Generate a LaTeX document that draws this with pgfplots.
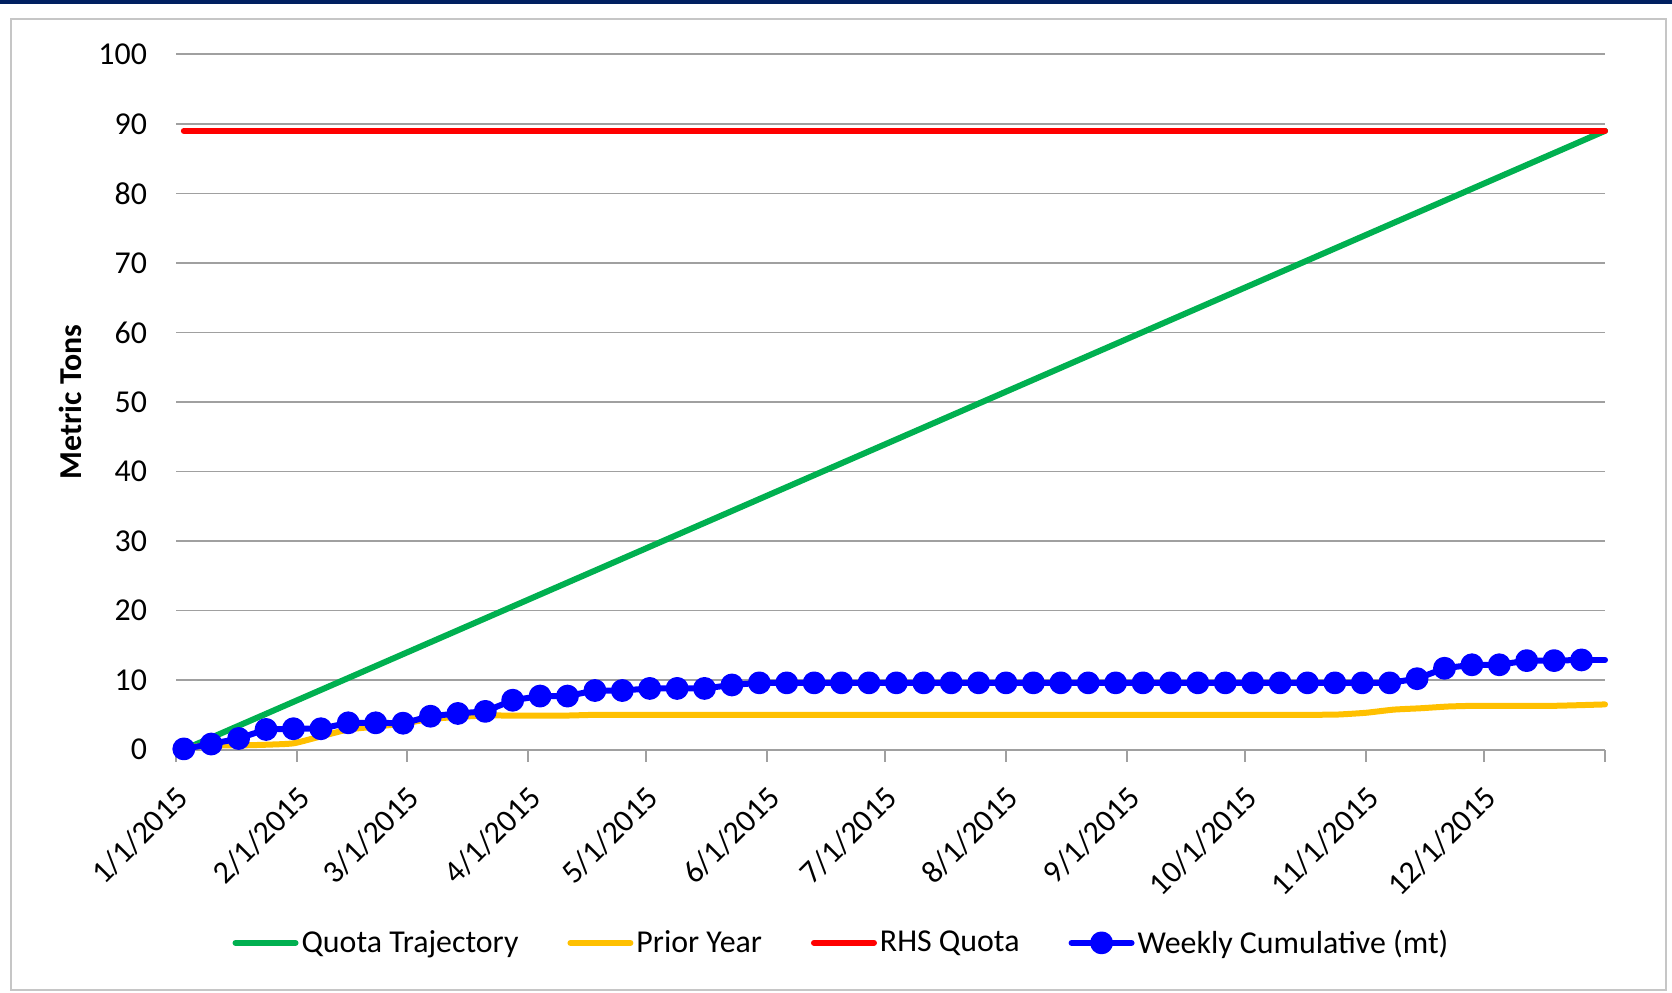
\documentclass[border=0pt]{standalone}
\usepackage{fontspec}
\setmainfont{Carlito}
\usepackage{pgfplots}
\usepackage{pgfplotstable}
\pgfplotsset{compat=1.18}
\definecolor{qgreen}{RGB}{0,176,80}
\definecolor{pyellow}{RGB}{255,192,0}
\definecolor{gridgray}{RGB}{160,160,160}
\definecolor{navybar}{RGB}{0,32,96}

\pgfplotstableread{
day blue
2 0.1
9 0.8
16 1.6
23 2.9
30 3.0
37 3.0
44 3.85
51 3.85
58 3.8
65 4.8
72 5.2
79 5.5
86 7.1
93 7.7
100 7.7
107 8.5
114 8.5
121 8.8
128 8.8
135 8.8
142 9.3
149 9.6
156 9.6
163 9.6
170 9.6
177 9.6
184 9.6
191 9.6
198 9.6
205 9.6
212 9.6
219 9.6
226 9.6
233 9.6
240 9.6
247 9.6
254 9.6
261 9.6
268 9.6
275 9.6
282 9.6
289 9.6
296 9.6
303 9.6
310 9.6
317 10.2
324 11.7
331 12.2
338 12.2
345 12.8
352 12.8
359 12.9
}\weekly

\pgfplotstableread{
day prior
2 0.3
9 0.6
16 0.6
23 0.7
30 0.9
37 1.9
44 2.9
51 3.3
58 3.75
65 4.4
72 4.7
79 4.9
86 4.9
93 4.9
100 4.9
107 5.0
114 5.0
150 5.0
200 5.0
250 5.0
275 5.0
283 5.0
290 5.0
297 5.05
304 5.3
311 5.75
318 5.95
325 6.2
332 6.3
345 6.3
352 6.3
359 6.4
365 6.5
}\prior

\begin{document}
\begin{tikzpicture}
\path[use as bounding box] (-88bp,-121.7bp) rectangle (748bp,374.8bp);
\fill[navybar] (-88bp,372.6bp) rectangle (748bp,374.8bp);
\draw[gray!45, line width=1bp] (-82.6bp,-119.95bp) rectangle (744.8bp,365.2bp);
\begin{axis}[
  scale only axis, width=714.5bp, height=347.6bp,
  at={(0,0)}, anchor=south west,
  xmin=0, xmax=365, ymin=0, ymax=100,
  xtick={0,31,59,90,120,151,181,212,243,273,304,334,365},
  xticklabels={1/1/2015,2/1/2015,3/1/2015,4/1/2015,5/1/2015,6/1/2015,7/1/2015,8/1/2015,9/1/2015,10/1/2015,11/1/2015,12/1/2015,{}},
  ytick={0,10,...,100},
  ymajorgrids, grid style={gridgray, line width=0.9bp},
  axis x line*=bottom, axis y line*=left,
  x axis line style={gridgray, line width=0.9bp, -},
  y axis line style={draw=none},
  xtick style={gridgray, line width=0.9bp},
  ytick style={draw=none},
  tick align=outside, major tick length=6bp,
  /pgf/number format/assume math mode=true,
  tick label style={font=\fontsize{16}{18}\selectfont, black},
  yticklabel style={xshift=-5bp},
  xticklabel style={rotate=45, anchor=north east, xshift=-5bp, yshift=-4bp},
  ylabel={\bfseries Metric Tons},
  ylabel style={at={(axis description cs:-0.0742,0.5)}, anchor=center, font=\fontsize{16}{18}\selectfont},
  legend columns=4,
  legend style={draw=none, at={(0.466,-0.278)}, anchor=center,
    font=\fontsize{16}{18}\selectfont,
    /tikz/every even column/.append style={column sep=23bp},
    nodes={inner sep=1.5bp}},
  legend image code/.code={\draw[mark repeat=2,mark phase=2,#1] plot coordinates {(0bp,0bp) (15bp,0bp) (30bp,0bp)};},
  clip=false,
]
\addplot[qgreen, line width=3bp, line cap=round] coordinates {(2,0) (365,89)};
\addlegendentry{Quota Trajectory}
\addplot[pyellow, line width=3bp, line cap=round, smooth, tension=0.3] table[x=day, y=prior] {\prior};
\addlegendentry{Prior Year}
\addplot[red, line width=3bp, line cap=round] coordinates {(2,89) (365,89)};
\addlegendentry{RHS Quota}
\addplot[blue, line width=3bp, line cap=round, line join=round, mark=*, mark size=4.2bp, mark options={solid}] table[x=day, y=blue] {\weekly};
\addlegendentry{Weekly Cumulative (mt)}
\addplot[blue, line width=3bp, line cap=round, forget plot] coordinates {(359,12.9) (365,12.9)};
\end{axis}
\end{tikzpicture}
\end{document}
